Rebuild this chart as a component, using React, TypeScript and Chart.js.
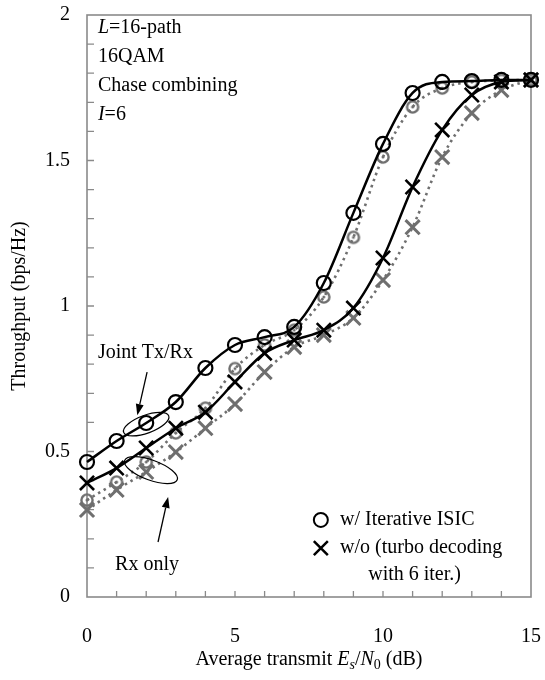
import React, { useEffect, useRef } from 'react';
import { Chart, registerables } from 'chart.js';

Chart.register(...registerables);

// ---- data ----
const snrDb = [0, 1, 2, 3, 4, 5, 6, 7, 8, 9, 10, 11, 12, 13, 14, 15];
const jointWithIsic = [0.464, 0.536, 0.598, 0.67, 0.787, 0.866, 0.893, 0.928, 1.079, 1.32, 1.557, 1.732, 1.77, 1.773, 1.777, 1.777];
const jointWithoutIsic = [0.392, 0.443, 0.512, 0.58, 0.635, 0.739, 0.838, 0.883, 0.917, 0.993, 1.165, 1.409, 1.605, 1.725, 1.77, 1.777];
const rxWithIsic = [0.333, 0.395, 0.464, 0.564, 0.649, 0.785, 0.866, 0.917, 1.031, 1.236, 1.512, 1.684, 1.749, 1.77, 1.775, 1.777];
const rxWithoutIsic = [0.299, 0.368, 0.43, 0.498, 0.58, 0.663, 0.773, 0.859, 0.9, 0.959, 1.089, 1.271, 1.512, 1.663, 1.742, 1.777];

const xTickValues = [0, 5, 10, 15];
const yTickValues = [0, 0.5, 1, 1.5, 2];
const yTickLabels = ['0', '0.5', '1', '1.5', '2'];

type Seg = { t: string; i?: boolean; sub?: boolean };
const infoLines: Seg[][] = [
  [{ t: 'L', i: true }, { t: '=16-path' }],
  [{ t: '16QAM' }],
  [{ t: 'Chase combining' }],
  [{ t: 'I', i: true }, { t: '=6' }],
];
const legendLabels = ['w/ Iterative ISIC', 'w/o (turbo decoding', 'with 6 iter.)'];
const jointLabel = 'Joint Tx/Rx';
const rxLabel = 'Rx only';
const yTitle = 'Throughput (bps/Hz)';
const xTitle: Seg[] = [
  { t: 'Average transmit ' },
  { t: 'E', i: true },
  { t: 's', i: true, sub: true },
  { t: '/' },
  { t: 'N', i: true },
  { t: '0', sub: true },
  { t: ' (dB)' },
];

const SERIF = '"Liberation Serif", "Times New Roman", serif';
const BLACK = '#000000';
const GREY = '#6f6f6f';
const FRAME = '#8a8a8a';

function fontFor(s: Seg, size = 20) {
  const sz = s.sub ? Math.round(size * 0.68) : size;
  return `${s.i ? 'italic ' : ''}${sz}px ${SERIF}`;
}

function drawRich(ctx: CanvasRenderingContext2D, segs: Seg[], x: number, y: number, align: 'left' | 'center') {
  const widths = segs.map((s) => {
    ctx.font = fontFor(s);
    return ctx.measureText(s.t).width;
  });
  const total = widths.reduce((a, b) => a + b, 0);
  let cx = align === 'center' ? x - total / 2 : x;
  ctx.textAlign = 'left';
  ctx.textBaseline = 'middle';
  segs.forEach((s, k) => {
    ctx.font = fontFor(s);
    ctx.fillText(s.t, cx, s.sub ? y + 5 : y);
    cx += widths[k];
  });
}

function makeDotCircle(): HTMLCanvasElement {
  const c = document.createElement('canvas');
  c.width = 18;
  c.height = 18;
  const g = c.getContext('2d')!;
  g.strokeStyle = GREY;
  g.lineWidth = 2.4;
  g.beginPath();
  g.arc(9, 9, 5.6, 0, Math.PI * 2);
  g.stroke();
  g.fillStyle = GREY;
  g.beginPath();
  g.arc(9, 9, 1.5, 0, Math.PI * 2);
  g.fill();
  return c;
}

function arrow(ctx: CanvasRenderingContext2D, x1: number, y1: number, x2: number, y2: number) {
  const ang = Math.atan2(y2 - y1, x2 - x1);
  const hl = 11;
  const hw = 4;
  ctx.strokeStyle = BLACK;
  ctx.fillStyle = BLACK;
  ctx.lineWidth = 1.3;
  ctx.beginPath();
  ctx.moveTo(x1, y1);
  ctx.lineTo(x2 - hl * Math.cos(ang), y2 - hl * Math.sin(ang));
  ctx.stroke();
  ctx.beginPath();
  ctx.moveTo(x2, y2);
  ctx.lineTo(x2 - hl * Math.cos(ang) + hw * Math.sin(ang), y2 - hl * Math.sin(ang) - hw * Math.cos(ang));
  ctx.lineTo(x2 - hl * Math.cos(ang) - hw * Math.sin(ang), y2 - hl * Math.sin(ang) + hw * Math.cos(ang));
  ctx.closePath();
  ctx.fill();
}

const framePlugin = {
  id: 'frameAndTicks',
  beforeDatasetsDraw(chart: any) {
    const { ctx, chartArea: a, scales } = chart;
    const xs = scales.x;
    const ys = scales.y;
    ctx.save();
    ctx.strokeStyle = FRAME;
    ctx.lineWidth = 1.6;
    ctx.strokeRect(a.left, a.top, a.right - a.left, a.bottom - a.top);
    ctx.lineWidth = 1.3;
    ctx.beginPath();
    for (let v = 1; v < 15; v++) {
      const p = xs.getPixelForValue(v);
      ctx.moveTo(p, a.bottom);
      ctx.lineTo(p, a.bottom - 6);
    }
    for (let k = 1; k < 20; k++) {
      const p = ys.getPixelForValue(k / 10);
      ctx.moveTo(a.left, p);
      ctx.lineTo(a.left + 7, p);
    }
    ctx.stroke();
    ctx.restore();
  },
  afterDraw(chart: any) {
    const { ctx, chartArea: a, scales } = chart;
    const xs = scales.x;
    const ys = scales.y;
    const X = (v: number) => xs.getPixelForValue(v);
    const Y = (v: number) => ys.getPixelForValue(v);
    ctx.save();
    ctx.fillStyle = BLACK;

    // info block
    const infoY = [1.955, 1.856, 1.756, 1.657];
    infoLines.forEach((line, k) => drawRich(ctx, line, X(0.37), Y(infoY[k]), 'left'));

    // y title
    ctx.save();
    ctx.translate(20, (a.top + a.bottom) / 2);
    ctx.rotate(-Math.PI / 2);
    ctx.font = `20px ${SERIF}`;
    ctx.textAlign = 'center';
    ctx.textBaseline = 'middle';
    ctx.fillText(yTitle, 0, 0);
    ctx.restore();

    // x title
    drawRich(ctx, xTitle, (a.left + a.right) / 2, 660, 'center');

    // legend
    const mx = X(7.9);
    const l1 = Y(0.265);
    const l2 = Y(0.168);
    ctx.strokeStyle = BLACK;
    ctx.lineWidth = 2;
    ctx.beginPath();
    ctx.arc(mx, l1, 7, 0, Math.PI * 2);
    ctx.stroke();
    ctx.lineWidth = 2.5;
    ctx.beginPath();
    ctx.moveTo(mx - 7, l2 - 7);
    ctx.lineTo(mx + 7, l2 + 7);
    ctx.moveTo(mx + 7, l2 - 7);
    ctx.lineTo(mx - 7, l2 + 7);
    ctx.stroke();
    ctx.fillStyle = BLACK;
    ctx.font = `20px ${SERIF}`;
    ctx.textAlign = 'left';
    ctx.textBaseline = 'middle';
    ctx.fillText(legendLabels[0], X(8.55), l1);
    ctx.fillText(legendLabels[1], X(8.55), l2);
    ctx.fillText(legendLabels[2], X(9.5), Y(0.076));

    // Joint Tx/Rx annotation
    ctx.fillText(jointLabel, X(0.37), Y(0.838));
    arrow(ctx, X(2.03), Y(0.773), X(1.7), Y(0.625));
    ctx.strokeStyle = BLACK;
    ctx.lineWidth = 1.2;
    ctx.beginPath();
    ctx.ellipse(X(2.0), Y(0.594), 24, 9, -0.35, 0, Math.PI * 2);
    ctx.stroke();

    // Rx only annotation
    ctx.beginPath();
    ctx.ellipse(X(2.16), Y(0.436), 28, 10, 0.35, 0, Math.PI * 2);
    ctx.stroke();
    arrow(ctx, X(2.4), Y(0.189), X(2.74), Y(0.344));
    ctx.fillText(rxLabel, X(0.95), Y(0.11));

    ctx.restore();
  },
};

export default function App() {
  const ref = useRef<HTMLCanvasElement>(null);
  useEffect(() => {
    if (!ref.current) return;
    const dot = makeDotCircle();
    const pts = (arr: number[]) => snrDb.map((x, i) => ({ x, y: arr[i] }));
    const chart = new Chart(ref.current, {
      type: 'line',
      data: {
        datasets: [
          {
            data: pts(jointWithIsic),
            borderColor: BLACK,
            borderWidth: 2.5,
            pointStyle: 'circle',
            pointRadius: 7,
            pointBorderWidth: 2.2,
            pointBorderColor: BLACK,
            pointBackgroundColor: 'rgba(0,0,0,0)',
            cubicInterpolationMode: 'monotone',
            clip: false,
          },
          {
            data: pts(jointWithoutIsic),
            borderColor: BLACK,
            borderWidth: 2.5,
            pointStyle: 'crossRot',
            pointRadius: 10,
            pointBorderWidth: 2.6,
            pointBorderColor: BLACK,
            cubicInterpolationMode: 'monotone',
            clip: false,
          },
          {
            data: pts(rxWithIsic),
            borderColor: GREY,
            borderWidth: 2.6,
            borderDash: [2.5, 4],
            pointStyle: dot,
            pointRadius: 7,
            cubicInterpolationMode: 'monotone',
            clip: false,
          },
          {
            data: pts(rxWithoutIsic),
            borderColor: GREY,
            borderWidth: 2.6,
            borderDash: [2.5, 4],
            pointStyle: 'crossRot',
            pointRadius: 10,
            pointBorderWidth: 3,
            pointBorderColor: GREY,
            cubicInterpolationMode: 'monotone',
            clip: false,
          },
        ],
      } as any,
      options: {
        responsive: false,
        animation: false,
        events: [],
        layout: { padding: { left: 0, right: 14, top: 15, bottom: 0 } },
        plugins: { legend: { display: false }, tooltip: { enabled: false } },
        scales: {
          x: {
            type: 'linear',
            min: 0,
            max: 15,
            grid: { display: false, drawTicks: false },
            border: { display: false },
            afterFit: (s: any) => {
              s.height = 83;
              s.paddingLeft = 0;
              s.paddingRight = 0;
            },
            afterBuildTicks: (s: any) => {
              s.ticks = xTickValues.map((v) => ({ value: v }));
            },
            ticks: {
              padding: 28,
              color: BLACK,
              font: { family: SERIF, size: 20 },
              maxRotation: 0,
              callback: (v: any) => String(v),
            },
          },
          y: {
            type: 'linear',
            min: 0,
            max: 2,
            grid: { display: false, drawTicks: false },
            border: { display: false },
            afterFit: (s: any) => {
              s.width = 87;
              s.paddingTop = 0;
              s.paddingBottom = 0;
            },
            afterBuildTicks: (s: any) => {
              s.ticks = yTickValues.map((v) => ({ value: v }));
            },
            ticks: {
              padding: 17,
              color: BLACK,
              font: { family: SERIF, size: 20 },
              callback: (v: any) => {
                const k = yTickValues.indexOf(Number(v));
                return k >= 0 ? yTickLabels[k] : '';
              },
            },
          },
        },
      } as any,
      plugins: [framePlugin],
    });
    return () => chart.destroy();
  }, []);
  return (
    <div style={{ position: 'absolute', left: 0, top: 0, width: 545, height: 680, background: '#fff' }}>
      <canvas ref={ref} width={545} height={680} style={{ width: 545, height: 680 }} />
    </div>
  );
}
